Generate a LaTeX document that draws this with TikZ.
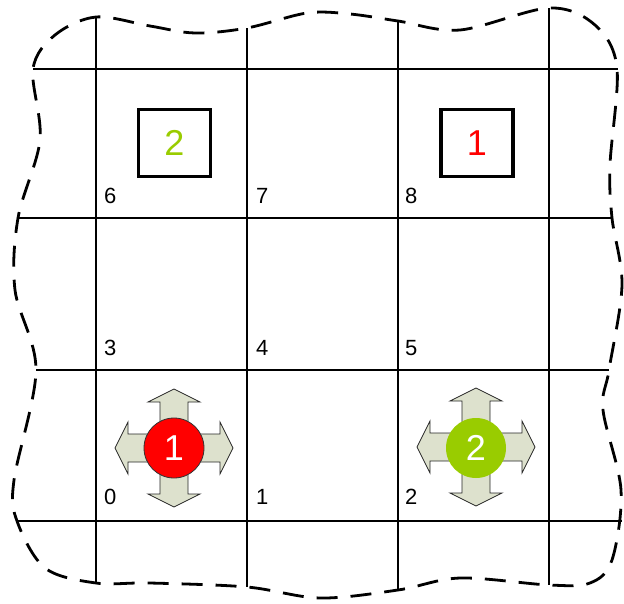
\documentclass[tikz,border=0pt]{standalone}
\usepackage{fontspec}
\setmainfont{Liberation Sans}
\definecolor{agentred}{HTML}{FF0000}
\definecolor{agentgreen}{HTML}{99CC00}
\definecolor{arrowfill}{HTML}{DDE1CD}
\begin{document}
\begin{tikzpicture}[x=1pt,y=-1pt,
  gridline/.style={line width=2.3pt, black},
  border/.style={line width=2.8pt, dash pattern=on 21pt off 13pt, line cap=butt},
  cellnum/.style={font=\fontsize{22}{26}\selectfont, anchor=base west, inner sep=0pt},
  goal/.style={draw, line width=3.5pt, minimum width=72pt, minimum height=67pt, inner sep=0pt, font=\fontsize{36}{40}\selectfont},
  agent/.style={circle, minimum size=60pt, inner sep=0pt, font=\fontsize{36}{40}\selectfont, text=white},
  movearrow/.style={fill=arrowfill, draw=black!85, line width=0.8pt, line join=miter}
]
\useasboundingbox (0,0) rectangle (624,603);

% wavy dashed border
\draw[border] plot[smooth cycle, tension=0.55] coordinates {
 (96,17) (150,26) (195,33) (247,28) (307,13) (350,14) (398,21) (460,30)
 (549,8) (595,25) (617,68) (610,165) (612,218) (622,285) (609,370) (603,410)
 (621,490) (612,560) (590,583) (549,585) (460,578) (398,590) (320,598)
 (247,587) (150,583) (96,583) (45,568) (17,521) (14,480) (36,370) (15,290)
 (18,218) (40,140) (33,69) (55,35)};

% grid
\draw[gridline] (33,69) -- (618,69);
\draw[gridline] (18,218) -- (612,218);
\draw[gridline] (36,370) -- (609,370);
\draw[gridline] (17,521) -- (622,521);
\draw[gridline] (96,17) -- (96,583);
\draw[gridline] (247,28) -- (247,587);
\draw[gridline] (398,20) -- (398,590);
\draw[gridline] (549,8) -- (549,585);

% cell numbers
\node[cellnum] (c6) at (104,203) {6};
\node[cellnum] (c7) at (256,203) {7};
\node[cellnum] (c8) at (405,203) {8};
\node[cellnum] (c3) at (104,355) {3};
\node[cellnum] (c4) at (256,355) {4};
\node[cellnum] (c5) at (405,355) {5};
\node[cellnum] (c0) at (104,504) {0};
\node[cellnum] (c1) at (256,504) {1};
\node[cellnum] (c2) at (405,504) {2};

% goals
\node[goal, text=agentgreen] (g2) at (174.5,143) {2};
\node[goal, text=agentred] (g1) at (477,143) {1};

% move arrows
\foreach \cx/\cy in {174/448, 476/447}{
  \draw[movearrow, shift={(\cx,\cy)}]
    (0,-59) -- (26,-46) -- (14,-46) -- (14,-14) -- (46,-14) -- (46,-26) -- (59,0)
    -- (46,26) -- (46,14) -- (14,14) -- (14,46) -- (26,46) -- (0,59) -- (-26,46)
    -- (-14,46) -- (-14,14) -- (-46,14) -- (-46,26) -- (-59,0) -- (-46,-26)
    -- (-46,-14) -- (-14,-14) -- (-14,-46) -- (-26,-46) -- cycle;
}

% agents
\node[agent, fill=agentred, draw=black!80, line width=0.8pt] (a1) at (174,448) {1};
\node[agent, fill=agentgreen] (a2) at (476,448) {2};
\end{tikzpicture}
\end{document}
